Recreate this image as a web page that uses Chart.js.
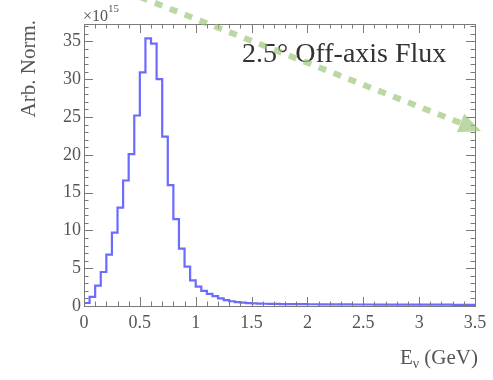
<!DOCTYPE html>
<html lang="en">
<head>
    <meta charset="UTF-8">
    <title>2.5 deg Off-axis Flux</title>
    <script src="https://cdn.jsdelivr.net/npm/chart.js"></script>
    <style>
        body {
            margin: 0;
            background: #ffffff;
        }
        #wrap {
            width: 493px;
            height: 380px;
        }
    </style>
</head>
<body>
    <div id="wrap">
        <canvas id="fluxChart" width="493" height="380"></canvas>
    </div>

    <script>
        // histogram: 70 bins of 0.05 GeV, values in units of 1e15
        const binWidth = 0.05;
        const fluxValues = [
            0.4, 1.2, 2.7, 4.5, 6.8, 9.7, 13.0, 16.6, 20.1, 25.2,
            30.9, 35.4, 34.7, 30.0, 22.4, 16.0, 11.5, 7.6, 5.2, 3.4,
            2.55, 2.0, 1.6, 1.3, 1.0, 0.78, 0.63, 0.52, 0.45, 0.39,
            0.35, 0.32, 0.3, 0.28, 0.27, 0.26, 0.25, 0.25, 0.24, 0.24,
            0.23, 0.23, 0.22, 0.22, 0.22, 0.21, 0.21, 0.21, 0.2, 0.2,
            0.2, 0.2, 0.19, 0.19, 0.19, 0.19, 0.18, 0.18, 0.18, 0.18,
            0.18, 0.17, 0.17, 0.17, 0.17, 0.17, 0.16, 0.16, 0.16, 0.16
        ];
        const xTickLabels = ['0', '0.5', '1', '1.5', '2', '2.5', '3', '3.5'];
        const yTickLabels = ['0', '5', '10', '15', '20', '25', '30', '35'];

        const serif = '"Liberation Serif", "DejaVu Serif", serif';
        const textColor = '#555555';
        const frameColor = '#7a7a7a';

        // stepped points: start at (0,0), then bin upper edge with bin value
        const histPoints = [{ x: 0, y: 0 }];
        fluxValues.forEach((v, i) => {
            histPoints.push({ x: +((i + 1) * binWidth).toFixed(2), y: v });
        });

        // ROOT style frame with inward ticks on all sides, plus texts and arrow
        const decorPlugin = {
            id: 'decor',
            afterDraw(chart) {
                const ctx = chart.ctx;
                const area = chart.chartArea;
                const xs = chart.scales.x;
                const ys = chart.scales.y;

                ctx.save();
                ctx.strokeStyle = frameColor;
                ctx.lineWidth = 1;
                ctx.strokeRect(area.left + 0.5, area.top + 0.5, area.right - area.left, area.bottom - area.top);

                ctx.beginPath();
                for (let i = 0; i <= 35; i++) {
                    const px = Math.round(xs.getPixelForValue(i * 0.1)) + 0.5;
                    const len = i % 5 === 0 ? 9 : 4.5;
                    ctx.moveTo(px, area.bottom);
                    ctx.lineTo(px, area.bottom - len);
                    ctx.moveTo(px, area.top);
                    ctx.lineTo(px, area.top + len);
                }
                for (let j = 0; j <= 37; j++) {
                    const py = Math.round(ys.getPixelForValue(j)) + 0.5;
                    const len = j % 5 === 0 ? 9 : 4.5;
                    ctx.moveTo(area.left, py);
                    ctx.lineTo(area.left + len, py);
                    ctx.moveTo(area.right, py);
                    ctx.lineTo(area.right - len, py);
                }
                ctx.stroke();

                // exponent label
                ctx.fillStyle = textColor;
                ctx.textBaseline = 'alphabetic';
                ctx.textAlign = 'left';
                ctx.font = '16px ' + serif;
                ctx.fillText('\u00d710', 83, 21);
                const w10 = ctx.measureText('\u00d710').width;
                ctx.font = '11px ' + serif;
                ctx.fillText('15', 83 + w10, 12);

                // y title, top aligned
                ctx.save();
                ctx.translate(35, 20);
                ctx.rotate(-Math.PI / 2);
                ctx.textAlign = 'right';
                ctx.font = '21px ' + serif;
                ctx.fillText('Arb. Norm.', 0, 0);
                ctx.restore();

                // x title, right aligned
                ctx.font = '21px ' + serif;
                const tail = ' (GeV)';
                const wTail = ctx.measureText(tail).width;
                ctx.font = '14px ' + serif;
                const wNu = ctx.measureText('\u03bd').width;
                ctx.font = '21px ' + serif;
                const wE = ctx.measureText('E').width;
                let x0 = 478 - wTail - wNu - wE;
                ctx.fillText('E', x0, 364);
                ctx.font = '14px ' + serif;
                ctx.fillText('\u03bd', x0 + wE, 368);
                ctx.font = '21px ' + serif;
                ctx.fillText(tail, x0 + wE + wNu, 364);

                // label in the plot
                ctx.fillStyle = '#333333';
                ctx.font = '28px ' + serif;
                ctx.textAlign = 'left';
                ctx.fillText('2.5\u00b0 Off-axis Flux', 242, 62);

                // green dashed arrow
                const x1 = 140, y1 = -3, x2 = 481, y2 = 131;
                const ang = Math.atan2(y2 - y1, x2 - x1);
                const headLen = 22;
                const bx = x2 - headLen * Math.cos(ang);
                const by = y2 - headLen * Math.sin(ang);
                ctx.strokeStyle = 'rgba(150, 195, 115, 0.65)';
                ctx.fillStyle = 'rgba(150, 195, 115, 0.65)';
                ctx.lineWidth = 6;
                ctx.setLineDash([8, 8]);
                ctx.beginPath();
                ctx.moveTo(x1, y1);
                ctx.lineTo(bx, by);
                ctx.stroke();
                ctx.setLineDash([]);
                ctx.beginPath();
                ctx.moveTo(x2, y2);
                ctx.lineTo(bx + 10 * Math.sin(ang), by - 10 * Math.cos(ang));
                ctx.lineTo(bx - 10 * Math.sin(ang), by + 10 * Math.cos(ang));
                ctx.closePath();
                ctx.fill();
                ctx.restore();
            }
        };

        new Chart(document.getElementById('fluxChart'), {
            type: 'line',
            data: {
                datasets: [{
                    data: histPoints,
                    stepped: 'after',
                    borderColor: 'rgba(70, 70, 255, 0.8)',
                    borderWidth: 2.2,
                    pointRadius: 0,
                    fill: false
                }]
            },
            options: {
                responsive: false,
                animation: false,
                layout: { padding: { left: 0, right: 18, top: 24, bottom: 0 } },
                plugins: {
                    legend: { display: false },
                    tooltip: { enabled: false }
                },
                scales: {
                    x: {
                        type: 'linear',
                        min: 0,
                        max: 3.5,
                        afterFit: (s) => { s.height = 74; },
                        grid: { display: false, drawTicks: false },
                        border: { display: false },
                        ticks: {
                            stepSize: 0.5,
                            maxRotation: 0,
                            padding: 6,
                            color: textColor,
                            font: { family: serif, size: 18 },
                            callback: (v, i) => xTickLabels[i]
                        }
                    },
                    y: {
                        min: 0,
                        max: 37.3,
                        afterFit: (s) => { s.width = 84; },
                        grid: { display: false, drawTicks: false },
                        border: { display: false },
                        ticks: {
                            stepSize: 5,
                            includeBounds: false,
                            padding: 3,
                            color: textColor,
                            font: { family: serif, size: 18 },
                            callback: (v, i) => yTickLabels[i]
                        }
                    }
                }
            },
            plugins: [decorPlugin]
        });
    </script>
</body>
</html>
